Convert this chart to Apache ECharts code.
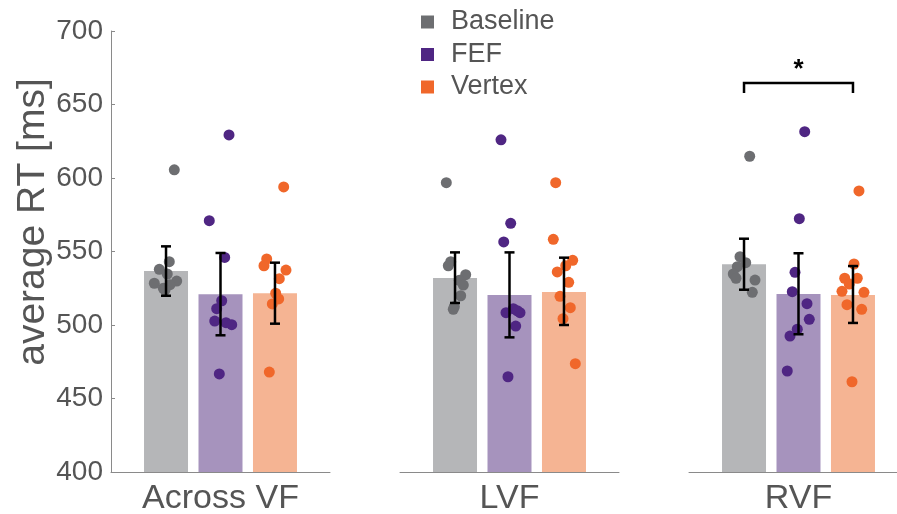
<!DOCTYPE html>
<html>
<head>
<meta charset="utf-8">
<script src="https://cdn.jsdelivr.net/npm/echarts@6/dist/echarts.min.js"></script>
<style>
html,body{margin:0;padding:0;background:#fff;}
#chart{width:897px;height:514px;}
</style>
</head>
<body>
<div id="chart"></div>
<script>
// ---- data ----
const groups = ['Across VF', 'LVF', 'RVF'];
const conditions = ['Baseline', 'FEF', 'Vertex'];
const yTicks = [400, 450, 500, 550, 600, 650, 700];

// bar means [group][condition]
const barMeans = [
  [536.7, 520.9, 521.6],
  [532.0, 520.4, 522.4],
  [541.3, 521.1, 520.4]
];
// error bar limits [group][condition]
const errLow = [
  [519.9, 493.0, 500.9],
  [515.0, 491.6, 500.0],
  [524.0, 493.7, 501.4]
];
const errHigh = [
  [553.5, 549.0, 542.4],
  [549.4, 549.4, 545.8],
  [558.7, 548.8, 540.1]
];

// individual subjects: [jitter offset from bar centre, RT]
const acrossBaseline = [[0.152,605.6],[0.060,543.1],[-0.123,537.9],[0.023,534.7],[0.196,529.9],[-0.215,528.4],[0.073,527.4],[-0.050,525.0],[-0.019,523.8]];
const acrossFEF = [[0.156,629.3],[-0.206,571.0],[0.077,546.0],[0.022,516.5],[-0.070,511.1],[-0.106,502.7],[0.101,501.6],[0.206,500.2],[-0.022,466.7]];
const acrossVertex = [[0.160,593.9],[-0.152,544.9],[-0.202,540.3],[0.202,537.4],[0.079,531.5],[0.013,521.6],[0.068,517.7],[-0.049,514.3],[-0.104,468.0]];

const lvfBaseline = [[-0.160,596.8],[-0.079,543.1],[-0.123,540.3],[0.196,534.2],[0.079,530.4],[0.152,527.2],[0.104,519.9],[-0.013,512.5],[-0.032,510.7]];
const lvfFEF = [[-0.156,626.0],[0.022,569.2],[-0.106,556.5],[0.070,511.1],[-0.064,508.4],[0.193,508.4],[0.143,509.7],[0.114,499.3],[-0.028,464.8]];
const lvfVertex = [[-0.152,596.8],[-0.196,558.3],[0.160,544.0],[0.032,540.3],[-0.123,536.1],[0.087,529.0],[-0.073,519.5],[0.116,511.8],[-0.018,504.3],[0.208,473.7]];

const rvfBaseline = [[0.104,614.8],[-0.074,546.5],[0.031,542.4],[-0.123,539.7],[-0.197,534.7],[-0.147,531.8],[0.202,530.6],[0.152,522.2]];
const rvfFEF = [[0.114,631.5],[0.015,572.3],[-0.064,535.8],[-0.114,522.7],[0.156,514.5],[0.198,503.9],[-0.022,497.1],[-0.156,492.5],[-0.206,468.7]];
const rvfVertex = [[0.110,591.2],[0.019,541.5],[-0.152,531.8],[0.079,531.8],[-0.068,527.9],[-0.202,522.9],[0.202,522.2],[-0.110,513.8],[0.160,510.7],[-0.018,461.4]];

const subjects = [
  [acrossBaseline, acrossFEF, acrossVertex],
  [lvfBaseline, lvfFEF, lvfVertex],
  [rvfBaseline, rvfFEF, rvfVertex]
];

// significance bracket (RVF: Baseline vs Vertex)
const sigGroup = 2;
const sigFrom = 0, sigTo = 2;
const sigY = 664.6, sigTickY = 657.8, sigLabelY = 673.5;
const sigLabel = '*';

// ---- styles ----
const dotColors = ['#6d6e71', '#4f2683', '#f0672a'];
const barColors = ['#b5b6b8', '#a693bd', '#f5b493'];
const textColor = '#555555';
const axisColor = '#8a8a8a';
const fontFamily = "'Liberation Sans', Arial, Helvetica, sans-serif";

const gridLefts = [111, 400, 689];
const gridWidth = 219;
const xPos = i => i - 1; // condition index -> x in data units

const chart = echarts.init(document.getElementById('chart'));

const grid = gridLefts.map(l => ({ left: l, width: gridWidth, top: 31, height: 441, outerBoundsMode: 'none', containLabel: false }));

const xAxis = groups.map((g, gi) => ({
  type: 'value', gridIndex: gi, min: -2.01, max: 2.01,
  axisLine: { show: true, onZero: false, lineStyle: { color: axisColor, width: 1 } },
  axisTick: { show: false }, axisLabel: { show: false }, splitLine: { show: false },
  name: g, nameLocation: 'middle', nameGap: 10,
  nameTextStyle: { fontSize: 34, color: textColor, fontFamily: fontFamily, verticalAlign: 'top' }
}));

const yAxis = groups.map((g, gi) => ({
  type: 'value', gridIndex: gi, min: yTicks[0], max: yTicks[yTicks.length - 1], interval: 50,
  show: gi === 0,
  axisLine: { show: true, onZero: false, lineStyle: { color: axisColor, width: 1 } },
  axisTick: { show: true, inside: true, length: 4, lineStyle: { color: axisColor } },
  axisLabel: { fontSize: 28, color: textColor, fontFamily: fontFamily, margin: 8 },
  splitLine: { show: false }
}));

const series = [];
groups.forEach((g, gi) => {
  // bars
  series.push({
    type: 'bar', name: g + ' mean', xAxisIndex: gi, yAxisIndex: gi,
    barWidth: 44, z: 1, silent: true,
    data: conditions.map((c, ci) => ({ value: [xPos(ci), barMeans[gi][ci]], itemStyle: { color: barColors[ci] } }))
  });
  // subjects
  conditions.forEach((c, ci) => {
    series.push({
      type: 'scatter', name: c, xAxisIndex: gi, yAxisIndex: gi,
      symbolSize: 11, z: 3,
      itemStyle: { color: dotColors[ci], opacity: 1 },
      data: subjects[gi][ci].map(p => [xPos(ci) + p[0], p[1]])
    });
  });
  // error bars
  series.push({
    type: 'custom', name: g + ' error', xAxisIndex: gi, yAxisIndex: gi, z: 5, silent: true,
    data: conditions.map((c, ci) => [xPos(ci), errLow[gi][ci], errHigh[gi][ci]]),
    renderItem: function (params, api) {
      const lo = api.coord([api.value(0), api.value(1)]);
      const hi = api.coord([api.value(0), api.value(2)]);
      const hw = 5;
      const st = { stroke: '#000', lineWidth: 2.5 };
      return { type: 'group', children: [
        { type: 'line', shape: { x1: lo[0], y1: lo[1], x2: hi[0], y2: hi[1] }, style: st },
        { type: 'line', shape: { x1: lo[0] - hw, y1: lo[1], x2: lo[0] + hw, y2: lo[1] }, style: st },
        { type: 'line', shape: { x1: hi[0] - hw, y1: hi[1], x2: hi[0] + hw, y2: hi[1] }, style: st }
      ]};
    }
  });
});

// significance bracket
series.push({
  type: 'custom', name: 'sig', xAxisIndex: sigGroup, yAxisIndex: sigGroup, z: 6, silent: true,
  data: [[xPos(sigFrom), xPos(sigTo), sigY, sigTickY, sigLabelY]],
  renderItem: function (params, api) {
    const a = api.coord([api.value(0), api.value(3)]);
    const b = api.coord([api.value(0), api.value(2)]);
    const c = api.coord([api.value(1), api.value(2)]);
    const d = api.coord([api.value(1), api.value(3)]);
    const t = api.coord([(api.value(0) + api.value(1)) / 2, api.value(4)]);
    return { type: 'group', children: [
      { type: 'polyline', shape: { points: [a, b, c, d] }, style: { stroke: '#000', lineWidth: 2.5, fill: null } },
      { type: 'text', x: t[0], y: t[1], style: { text: sigLabel, fontSize: 26, fontWeight: 'bold', fill: '#000', align: 'center', verticalAlign: 'middle', fontFamily: fontFamily } }
    ]};
  }
});

chart.setOption({
  animation: false,
  backgroundColor: '#ffffff',
  grid: grid,
  xAxis: xAxis,
  yAxis: yAxis,
  legend: {
    data: conditions, orient: 'vertical', left: 421, top: 8, padding: 0,
    icon: 'rect', itemWidth: 13, itemHeight: 13, itemGap: 4.5,
    textStyle: { fontSize: 27, lineHeight: 28, color: textColor, fontFamily: fontFamily, padding: [0, 0, 0, 12] }
  },
  graphic: [{
    type: 'text', x: 33, y: 222, rotation: Math.PI / 2,
    style: { text: 'average RT [ms]', fontSize: 39, fill: textColor, fontFamily: fontFamily, align: 'center', verticalAlign: 'middle' }
  }],
  series: series
});
</script>
</body>
</html>
